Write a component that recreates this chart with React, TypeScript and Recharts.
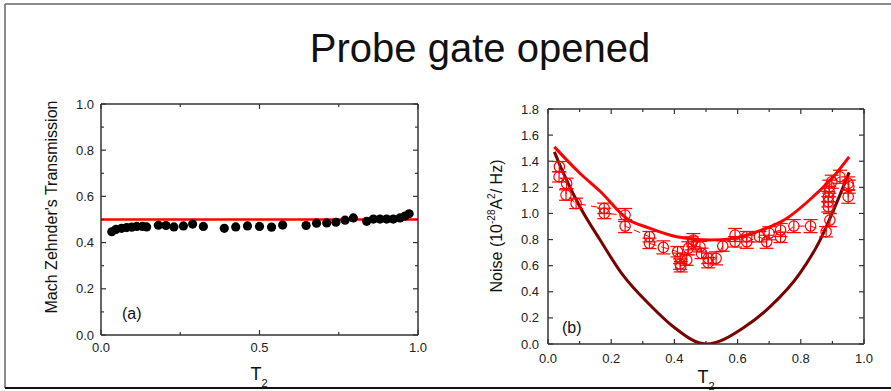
import { ComposedChart, Line, Scatter, XAxis, YAxis, ReferenceLine, ErrorBar } from 'recharts';

// panel (a): Mach Zehnder transmission vs T2
const transT = [0.034, 0.047, 0.065, 0.081, 0.097, 0.113, 0.131, 0.144, 0.181, 0.205, 0.23, 0.26, 0.289, 0.323, 0.389, 0.425, 0.462, 0.5, 0.538, 0.573, 0.647, 0.68, 0.712, 0.741, 0.77, 0.796, 0.838, 0.859, 0.88, 0.901, 0.922, 0.943, 0.959, 0.972];
const transVal = [0.447, 0.457, 0.462, 0.465, 0.467, 0.47, 0.47, 0.468, 0.475, 0.474, 0.468, 0.472, 0.48, 0.47, 0.462, 0.468, 0.472, 0.47, 0.467, 0.476, 0.474, 0.484, 0.485, 0.488, 0.497, 0.507, 0.492, 0.502, 0.502, 0.502, 0.502, 0.507, 0.515, 0.525];
const refLevel = 0.5;

// panel (b): noise vs T2
const noiseT = [0.036, 0.035, 0.059, 0.057, 0.089, 0.178, 0.178, 0.244, 0.244, 0.321, 0.321, 0.365, 0.41, 0.418, 0.418, 0.42, 0.439, 0.444, 0.455, 0.46, 0.481, 0.486, 0.507, 0.507, 0.532, 0.553, 0.592, 0.592, 0.629, 0.629, 0.669, 0.692, 0.7, 0.736, 0.736, 0.778, 0.831, 0.88, 0.892, 0.887, 0.887, 0.887, 0.89, 0.89, 0.898, 0.924, 0.95, 0.95, 0.952];
const noiseVal = [1.358, 1.281, 1.23, 1.141, 1.077, 1.039, 1.0, 0.988, 0.903, 0.822, 0.771, 0.74, 0.707, 0.656, 0.612, 0.592, 0.643, 0.733, 0.771, 0.796, 0.745, 0.694, 0.656, 0.623, 0.656, 0.75, 0.835, 0.783, 0.822, 0.783, 0.822, 0.783, 0.848, 0.873, 0.817, 0.903, 0.903, 0.86, 0.949, 1.051, 1.09, 1.128, 1.166, 1.205, 1.243, 1.281, 1.23, 1.128, 1.205];
const noiseErr = [0.04, 0.04, 0.04, 0.04, 0.04, 0.04, 0.04, 0.05, 0.05, 0.04, 0.04, 0.05, 0.04, 0.04, 0.04, 0.04, 0.04, 0.05, 0.05, 0.05, 0.04, 0.04, 0.04, 0.04, 0.05, 0.04, 0.05, 0.04, 0.04, 0.05, 0.04, 0.05, 0.05, 0.05, 0.04, 0.05, 0.05, 0.04, 0.05, 0.04, 0.04, 0.04, 0.04, 0.05, 0.05, 0.05, 0.05, 0.05, 0.05];

const fitT = [0.02, 0.1, 0.165, 0.249, 0.323, 0.407, 0.513, 0.586, 0.671, 0.755, 0.839, 0.903, 0.953];
const fitVal = [1.51, 1.31, 1.17, 0.962, 0.886, 0.822, 0.796, 0.809, 0.868, 0.962, 1.128, 1.281, 1.434];

const shotT = [0.02, 0.049, 0.101, 0.165, 0.233, 0.328, 0.397, 0.5, 0.623, 0.703, 0.797, 0.861, 0.908, 0.953];
const shotVal = [1.472, 1.307, 1.051, 0.796, 0.541, 0.286, 0.132, 0, 0.132, 0.286, 0.541, 0.796, 1.051, 1.315];

// ticks
const xTicksA = [0, 0.25, 0.5, 0.75, 1];
const xLabelsA = [0, 0.5, 1];
const yTicksA = [0, 0.1, 0.2, 0.3, 0.4, 0.5, 0.6, 0.7, 0.8, 0.9, 1];
const yLabelsA = [0, 0.2, 0.4, 0.6, 0.8, 1];
const xTicksB = [0, 0.1, 0.2, 0.3, 0.4, 0.5, 0.6, 0.7, 0.8, 0.9, 1];
const xLabelsB = [0, 0.2, 0.4, 0.6, 0.8, 1];
const yTicksB = [0, 0.1, 0.2, 0.3, 0.4, 0.5, 0.6, 0.7, 0.8, 0.9, 1, 1.1, 1.2, 1.3, 1.4, 1.5, 1.6, 1.7, 1.8];
const yLabelsB = [0, 0.2, 0.4, 0.6, 0.8, 1, 1.2, 1.4, 1.6, 1.8];

const transData = transT.map((t, i) => ({ t, v: transVal[i] }));
const noiseData = noiseT.map((t, i) => ({ t, v: noiseVal[i], err: noiseErr[i] }));
const fitData = fitT.map((t, i) => ({ t, v: fitVal[i] }));
const shotData = shotT.map((t, i) => ({ t, v: shotVal[i] }));

const FONT = '"Liberation Sans", Arial, sans-serif';
const AXIS = '#333';
const W = 891;
const H = 391;

type Box = { left: number; top: number; right: number; bottom: number };
const boxA: Box = { left: 101, top: 104, right: 418, bottom: 335 };
const boxB: Box = { left: 548, top: 109, right: 864, bottom: 344 };

const isMajor = (v: number, labels: number[]) => labels.some((l) => Math.abs(l - v) < 1e-6);

function makeTick(side: string, box: Box, labels: number[], gap = 0) {
  return (props: any) => {
    const { x, y, payload } = props;
    const v = payload.value;
    const major = isMajor(v, labels);
    const len = major ? 5 : 3;
    const txt = major ? v.toFixed(1) : '';
    if (side === 'left') {
      return (
        <g>
          <line x1={box.left} x2={box.left + len} y1={y} y2={y} stroke={AXIS} strokeWidth={1.2} />
          <text x={box.left - gap} y={y + 4.5} textAnchor="end" fontSize={13} fill="#222" fontFamily={FONT}>{txt}</text>
        </g>
      );
    }
    if (side === 'right') {
      return <line x1={box.right} x2={box.right - len} y1={y} y2={y} stroke={AXIS} strokeWidth={1.2} />;
    }
    if (side === 'top') {
      return <line x1={x} x2={x} y1={box.top} y2={box.top + len} stroke={AXIS} strokeWidth={1.2} />;
    }
    return (
      <g>
        <line x1={x} x2={x} y1={box.bottom} y2={box.bottom - len} stroke={AXIS} strokeWidth={1.2} />
        <text x={x} y={box.bottom + gap} textAnchor="middle" fontSize={13} fill="#222" fontFamily={FONT}>{txt}</text>
      </g>
    );
  };
}

const blackDot = (p: any) => <circle cx={p.cx} cy={p.cy} r={4.6} fill="#000" />;
const openDot = (p: any) => <circle cx={p.cx} cy={p.cy} r={5.2} fill="none" stroke="#f00" strokeWidth={1.2} />;

const axisLine = { stroke: AXIS, strokeWidth: 1.5 };

function PanelA() {
  return (
    <ComposedChart width={W} height={H} margin={{ top: boxA.top - 10, left: boxA.left - 40, right: W - boxA.right - 10, bottom: H - boxA.bottom - 30 }}>
      <XAxis xAxisId="b" type="number" dataKey="t" domain={[0, 1]} ticks={xTicksA} height={30} tickLine={false} axisLine={axisLine} tick={makeTick('bottom', boxA, xLabelsA, 16.5)} allowDataOverflow />
      <XAxis xAxisId="t" orientation="top" type="number" dataKey="t" domain={[0, 1]} ticks={xTicksA} height={10} tickLine={false} axisLine={axisLine} tick={makeTick('top', boxA, xLabelsA)} allowDataOverflow />
      <YAxis yAxisId="l" type="number" dataKey="v" domain={[0, 1]} ticks={yTicksA} width={40} tickLine={false} axisLine={axisLine} tick={makeTick('left', boxA, yLabelsA, 7)} allowDataOverflow />
      <YAxis yAxisId="r" orientation="right" type="number" dataKey="v" domain={[0, 1]} ticks={yTicksA} width={10} tickLine={false} axisLine={axisLine} tick={makeTick('right', boxA, yLabelsA)} allowDataOverflow />
      <ReferenceLine xAxisId="b" yAxisId="l" y={refLevel} stroke="#f00" strokeWidth={2.5} />
      <Scatter xAxisId="b" yAxisId="l" data={transData} dataKey="v" shape={blackDot} isAnimationActive={false} />
    </ComposedChart>
  );
}

function PanelB() {
  return (
    <ComposedChart width={W} height={H} margin={{ top: boxB.top - 10, left: boxB.left - 40, right: W - boxB.right - 10, bottom: H - boxB.bottom - 30 }}>
      <XAxis xAxisId="b" type="number" dataKey="t" domain={[0, 1]} ticks={xTicksB} height={30} tickLine={false} axisLine={axisLine} tick={makeTick('bottom', boxB, xLabelsB, 18.5)} allowDataOverflow />
      <XAxis xAxisId="t" orientation="top" type="number" dataKey="t" domain={[0, 1]} ticks={xTicksB} height={10} tickLine={false} axisLine={axisLine} tick={makeTick('top', boxB, xLabelsB)} allowDataOverflow />
      <YAxis yAxisId="l" type="number" dataKey="v" domain={[0, 1.8]} ticks={yTicksB} width={40} tickLine={false} axisLine={axisLine} tick={makeTick('left', boxB, yLabelsB, 9)} allowDataOverflow />
      <YAxis yAxisId="r" orientation="right" type="number" dataKey="v" domain={[0, 1.8]} ticks={yTicksB} width={10} tickLine={false} axisLine={axisLine} tick={makeTick('right', boxB, yLabelsB)} allowDataOverflow />
      <Line xAxisId="b" yAxisId="l" data={shotData} dataKey="v" type="monotone" stroke="#7a0000" strokeWidth={3} dot={false} isAnimationActive={false} />
      <Scatter xAxisId="b" yAxisId="l" data={noiseData} dataKey="v" shape={openDot} line={{ stroke: '#f00', strokeWidth: 1, strokeDasharray: '7 5' }} isAnimationActive={false}>
        <ErrorBar dataKey="err" direction="y" width={7} stroke="#f00" strokeWidth={1.2} />
      </Scatter>
      <Line xAxisId="b" yAxisId="l" data={fitData} dataKey="v" type="monotone" stroke="#f00" strokeWidth={3} dot={false} isAnimationActive={false} />
    </ComposedChart>
  );
}

export default function App() {
  return (
    <div style={{ position: 'absolute', left: 0, top: 0, width: W, height: H, background: '#fff', fontFamily: FONT, overflow: 'hidden' }}>
      <div style={{ position: 'absolute', left: 0, top: 0 }}><PanelA /></div>
      <div style={{ position: 'absolute', left: 0, top: 0 }}><PanelB /></div>
      <svg width={W} height={H} style={{ position: 'absolute', left: 0, top: 0, pointerEvents: 'none' }} fontFamily={FONT}>
        <line x1={5} x2={W} y1={4} y2={4} stroke="#666" strokeWidth={1.5} />
        <line x1={5} x2={5} y1={4} y2={388} stroke="#666" strokeWidth={1.5} />
        <line x1={5} x2={W} y1={388} y2={388} stroke="#111" strokeWidth={2} />
        <text x={480} y={62} textAnchor="middle" fontSize={40} fill="#111">Probe gate opened</text>
        <text transform="translate(57, 207) rotate(-90)" textAnchor="middle" fontSize={16} fill="#111">Mach Zehnder's Transmission</text>
        <text transform="translate(502, 226) rotate(-90)" textAnchor="middle" fontSize={16} fill="#111">
          Noise (10<tspan dy={-7} fontSize={10}>-28</tspan><tspan dy={7}>A</tspan><tspan dy={-7} fontSize={10}>2</tspan><tspan dy={7}>/ Hz)</tspan>
        </text>
        <text x={259} y={380} textAnchor="middle" fontSize={18} fill="#111">T<tspan dy={7} fontSize={11}>2</tspan></text>
        <text x={706} y={383} textAnchor="middle" fontSize={18} fill="#111">T<tspan dy={7} fontSize={11}>2</tspan></text>
        <text x={122} y={319} fontSize={16} fill="#111">(a)</text>
        <text x={562} y={333} fontSize={16} fill="#111">(b)</text>
      </svg>
    </div>
  );
}
